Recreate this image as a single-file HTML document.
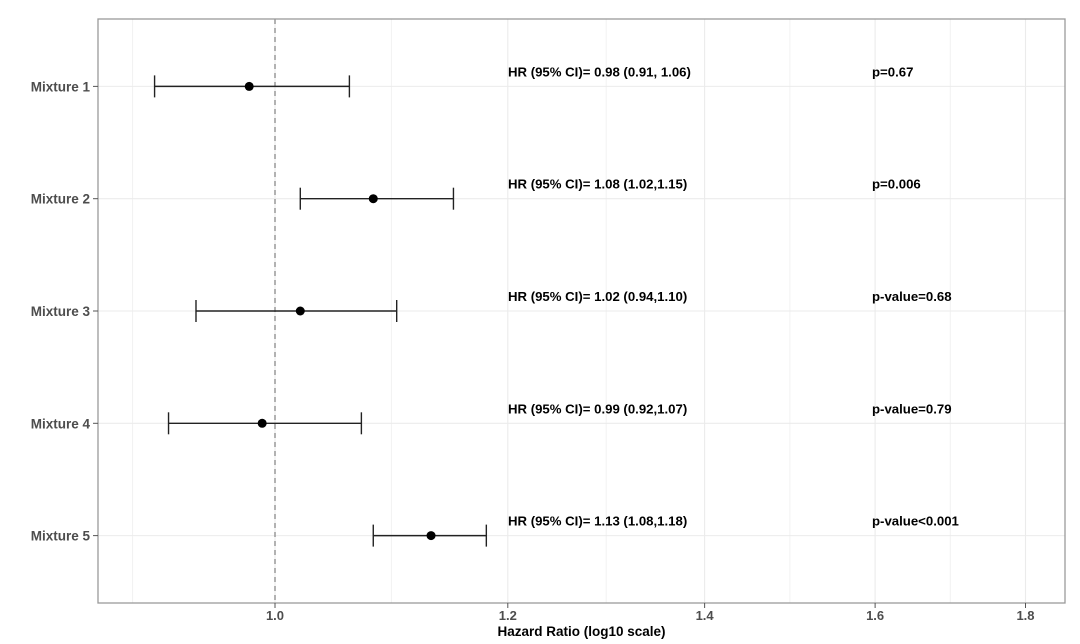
<!DOCTYPE html>
<html><head><meta charset="utf-8">
<style>
html,body{margin:0;padding:0;background:#fff;}
svg{display:block;font-family:"Liberation Sans",Arial,sans-serif;}
</style></head>
<body>
<svg id="chart" width="1080" height="644" viewBox="0 0 1080 644"></svg>
<script>
const categories = ["Mixture 1","Mixture 2","Mixture 3","Mixture 4","Mixture 5"];
const hrValues = [0.98, 1.08, 1.02, 0.99, 1.13];
const ciLower = [0.91, 1.02, 0.94, 0.92, 1.08];
const ciUpper = [1.06, 1.15, 1.10, 1.07, 1.18];
const hrLabels = ["HR (95% CI)= 0.98 (0.91, 1.06)","HR (95% CI)= 1.08 (1.02,1.15)","HR (95% CI)= 1.02 (0.94,1.10)","HR (95% CI)= 0.99 (0.92,1.07)","HR (95% CI)= 1.13 (1.08,1.18)"];
const pLabels = ["p=0.67","p=0.006","p-value=0.68","p-value=0.79","p-value<0.001"];
const xTicks = [1.0, 1.2, 1.4, 1.6, 1.8];
const xTickLabels = ["1.0","1.2","1.4","1.6","1.8"];

const svg = document.getElementById('chart');
const NS = 'http://www.w3.org/2000/svg';
const L = 98, R = 1065, T = 19, B = 603;
const ppl = 2940, x0 = 275;
function xs(v){ return x0 + Math.log10(v) * ppl; }
const step = (B - T) / (categories.length - 1 + 1.2);
function ys(i){ return T + step * 0.6 + i * step; }
function mk(tag, attrs, parent){
  const e = document.createElementNS(NS, tag);
  for (const k in attrs) e.setAttribute(k, attrs[k]);
  (parent || svg).appendChild(e);
  return e;
}
for (let i = 0; i < xTicks.length - 1; i++) {
  const m = Math.sqrt(xTicks[i] * xTicks[i+1]);
  const g = mk('line', {x1: xs(m), x2: xs(m), y1: T, y2: B, stroke: '#f2f2f2', 'stroke-width': 1});
  
  
}
{ const m = Math.sqrt(0.8 * 1.0);
  const g = mk('line', {x1: xs(m), x2: xs(m), y1: T, y2: B, stroke: '#f2f2f2', 'stroke-width': 1});
  
   }
xTicks.forEach((t) => {
  const g = mk('line', {x1: xs(t), x2: xs(t), y1: T, y2: B, stroke: '#ebebeb', 'stroke-width': 1.1});
  
  
});
categories.forEach((c, i) => {
  const g = mk('line', {x1: L, x2: R, y1: ys(i), y2: ys(i), stroke: '#ebebeb', 'stroke-width': 1.1});
  
  
});
const ref = mk('line', {x1: xs(1), x2: xs(1), y1: T, y2: B, stroke: '#8a8a8a', 'stroke-width': 1.3, 'stroke-dasharray': '5,4'});


const border = mk('rect', {x: L, y: T, width: R - L, height: B - T, fill: 'none', stroke: '#9a9a9a', 'stroke-width': 1.3});


categories.forEach((c, i) => {
  const y = ys(i);
  const g = mk('g', {});
  
  
  const e = mk('line', {x1: xs(ciLower[i]), x2: xs(ciUpper[i]), y1: y, y2: y, stroke: '#222', 'stroke-width': 1.4}, g);
  
  
  [ciLower[i], ciUpper[i]].forEach(v => {
    const cap = mk('line', {x1: xs(v), x2: xs(v), y1: y - 11, y2: y + 11, stroke: '#222', 'stroke-width': 1.4}, g);
    
    
  });
  const p = mk('circle', {cx: xs(hrValues[i]), cy: y, r: 4.5, fill: '#000'}, g);
  
  
  const t1 = mk('text', {x: 508, y: y - 10, 'font-size': 13.2, 'font-weight': 'bold', fill: '#000'}, g);
  t1.textContent = hrLabels[i];
  
  
  const t2 = mk('text', {x: 872, y: y - 10, 'font-size': 13.2, 'font-weight': 'bold', fill: '#000'}, g);
  t2.textContent = pLabels[i];
  
  
  const yl = mk('text', {x: 90, y: y + 5, 'font-size': 13.5, 'font-weight': 'bold', fill: '#4d4d4d', 'text-anchor': 'end'});
  yl.textContent = c;
  
  
  const tk = mk('line', {x1: L - 5, x2: L, y1: y, y2: y, stroke: '#555', 'stroke-width': 1});
  
  
});
xTicks.forEach((t, i) => {
  const tk = mk('line', {x1: xs(t), x2: xs(t), y1: B, y2: B + 5, stroke: '#555', 'stroke-width': 1});
  
  
  const lb = mk('text', {x: xs(t), y: B + 17, 'font-size': 13, 'font-weight': 'bold', fill: '#4d4d4d', 'text-anchor': 'middle'});
  lb.textContent = xTickLabels[i];
  
  
});
const title = mk('text', {x: (L + R) / 2, y: 636, 'font-size': 13.5, 'font-weight': 'bold', fill: '#000', 'text-anchor': 'middle'});
title.textContent = 'Hazard Ratio (log10 scale)';


</script>
</body></html>
